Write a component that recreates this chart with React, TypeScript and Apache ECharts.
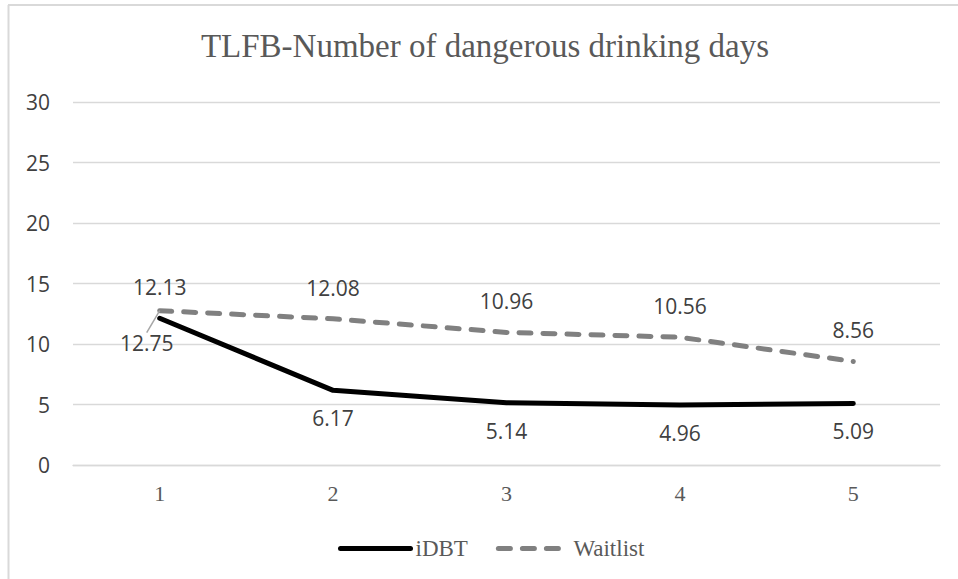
import React, { useEffect, useRef } from "react";
import * as echarts from "echarts";

const categories = ["1", "2", "3", "4", "5"];
const idbtValues = [12.13, 6.17, 5.14, 4.96, 5.09];
const waitlistValues = [12.75, 12.08, 10.96, 10.56, 8.56];
const yTicks = { min: 0, max: 30, interval: 5 };
const titleText = "TLFB-Number of dangerous drinking days";
const seriesNames = ["iDBT", "Waitlist"];

const SANS = "'Open Sans', 'Liberation Sans', sans-serif";
const SERIF = "'Liberation Serif', 'Times New Roman', serif";

export default function App() {
  const ref = useRef<HTMLDivElement>(null);
  useEffect(() => {
    if (!ref.current) return;
    const chart = echarts.init(ref.current, null, { renderer: "svg" });
    const labelBase = {
      show: true,
      position: "inside",
      fontFamily: SANS,
      fontSize: 21,
      color: "#404040",
    };
    chart.setOption({
      animation: false,
      backgroundColor: "#ffffff",
      title: {
        text: titleText,
        left: 480,
        top: 24,
        textAlign: "center",
        textStyle: {
          fontFamily: SERIF,
          fontSize: 33,
          fontWeight: "normal",
          color: "#595959",
        },
      },
      graphic: [
        {
          type: "line",
          shape: { x1: 8, y1: 5, x2: 958, y2: 5 },
          style: { stroke: "#d9d9d9", lineWidth: 2 },
          silent: true,
        },
        {
          type: "line",
          shape: { x1: 8.5, y1: 5, x2: 8.5, y2: 579 },
          style: { stroke: "#d9d9d9", lineWidth: 2 },
          silent: true,
        },
      ],
      legend: {
        data: seriesNames,
        left: 333,
        top: 532,
        itemWidth: 70,
        itemHeight: 24,
        itemGap: 28,
        textStyle: { fontFamily: SERIF, fontSize: 23, color: "#595959" },
        itemStyle: { opacity: 0 },
        lineStyle: { width: 5, cap: "round" },
      },
      grid: { left: 73, right: 18, top: 102, bottom: 114, containLabel: false },
      xAxis: {
        type: "category",
        data: categories,
        boundaryGap: true,
        axisLine: { show: true, lineStyle: { color: "#d9d9d9", width: 1.3 } },
        axisTick: { show: false },
        axisLabel: { margin: 17, fontFamily: SERIF, fontSize: 22, color: "#595959" },
      },
      yAxis: {
        type: "value",
        min: yTicks.min,
        max: yTicks.max,
        interval: yTicks.interval,
        axisLine: { show: false },
        axisTick: { show: false },
        splitLine: { lineStyle: { color: "#d9d9d9", width: 1.3 } },
        axisLabel: { margin: 23, fontFamily: SANS, fontSize: 21, color: "#404040" },
      },
      series: [
        {
          name: seriesNames[0],
          type: "line",
          data: idbtValues.map((v, i) =>
            i === 0 ? { value: v, label: { offset: [0, -31] } } : v
          ),
          symbol: "circle",
          symbolSize: 0.01,
          itemStyle: { color: "#000000" },
          lineStyle: { color: "#000000", width: 5, cap: "round", join: "round" },
          label: { ...labelBase, offset: [0, 28] },
          z: 3,
        },
        {
          name: seriesNames[1],
          type: "line",
          data: waitlistValues.map((v, i) =>
            i === 0
              ? {
                  value: v,
                  labelLine: { show: true, lineStyle: { color: "#a6a6a6", width: 1.5 } },
                }
              : v
          ),
          symbol: "circle",
          symbolSize: 0.01,
          itemStyle: { color: "#808080" },
          lineStyle: { color: "#808080", width: 5, type: [12, 12], cap: "round", join: "round" },
          label: { ...labelBase },
          labelLayout: (params: any) => {
            if (params.dataIndex !== 0) return { dy: -31 };
            const px = params.rect.x + params.rect.width / 2;
            const py = params.rect.y + params.rect.height / 2;
            return {
              dx: -13,
              dy: 32.5,
              labelLinePoints: [
                [px - 13.5, py + 12.5],
                [px - 4.5, py + 3.5],
              ],
            };
          },
          z: 2,
        },
      ],
    });
    return () => chart.dispose();
  }, []);
  return (
    <div
      ref={ref}
      style={{ position: "fixed", left: 0, top: 0, width: 958, height: 579 }}
    />
  );
}
